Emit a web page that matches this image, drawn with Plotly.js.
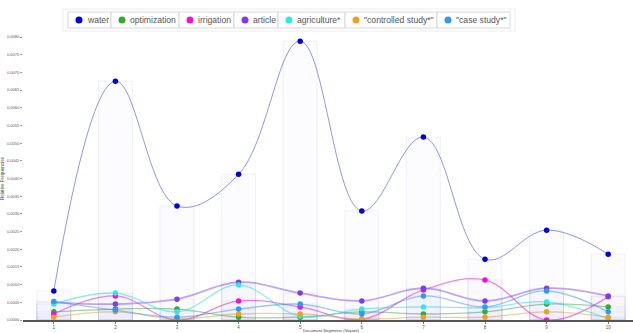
<!DOCTYPE html>
<html><head><meta charset="utf-8">
<script src="https://cdn.plot.ly/plotly-3.0.1.min.js"></script>
<style>html,body{margin:0;padding:0;background:#fff;overflow:hidden}#chart{width:640px;height:333px}</style>
</head><body><div id="chart"></div>
<script>
const segments = [1,2,3,4,5,6,7,8,9,10];
const seriesNames = ['water','optimization','irrigation','article','agriculture*','"controlled study*"','"case study*"'];
const water        = [0.00082,0.00675,0.00322,0.00412,0.00788,0.00308,0.00517,0.00172,0.00254,0.00186];
const optimization = [0.00023,0.00031,0.00031,0.00008,0.00008,0.00023,0.00017,0.00023,0.00045,0.00037];
const irrigation   = [0.00017,0.00068,0.00000,0.00054,0.00037,0.00002,0.00085,0.00113,0.00000,0.00066];
const article      = [0.00050,0.00045,0.00059,0.00107,0.00076,0.00054,0.00090,0.00054,0.00090,0.00068];
const agriculture  = [0.00045,0.00076,0.00023,0.00099,0.00011,0.00031,0.00037,0.00035,0.00051,0.00003];
const controlled   = [0.00008,0.00023,0.00003,0.00017,0.00017,0.00003,0.00008,0.00008,0.00023,0.00008];
const caseStudy    = [0.00052,0.00028,0.00008,0.00031,0.00045,0.00017,0.00068,0.00037,0.00082,0.00023];
const tickVals = [0,0.0005,0.001,0.0015,0.002,0.0025,0.003,0.0035,0.004,0.0045,0.005,0.0055,0.006,0.0065,0.007,0.0075,0.008];

const allSeries = [water,optimization,irrigation,article,agriculture,controlled,caseStudy];
const markerColors = ['#0000dd','#33aa33','#ee11dd','#7a3ee6','#33e6e6','#f0a020','#3399ee'];
const lineColors = ['rgba(60,60,230,0.55)','rgba(51,150,51,0.45)','rgba(230,30,220,0.55)','rgba(130,80,235,0.5)','rgba(40,220,230,0.55)','rgba(220,150,40,0.45)','rgba(50,150,230,0.5)'];

// geometry (pixels)
const W = 640, H = 333, L = 23, R = 1, T = 37, B = 13;
const PW = W - L - R, PH = H - T - B;
const px = v => (v - L) / PW;
const py = v => (H - B - v) / PH;

const traces = [];
allSeries.forEach((vals,i)=>{
  traces.push({type:'bar', x:segments, y:vals, width:0.55, showlegend:false, hoverinfo:'skip',
    marker:{color:'rgba(220,220,250,0.09)', line:{color:'rgba(190,190,225,0.22)', width:1}}});
});
allSeries.forEach((vals,i)=>{
  traces.push({type:'scatter', mode:'lines+markers', x:segments, y:vals, name:seriesNames[i], showlegend:false,
    line:{shape:'spline', smoothing:1.1, color:lineColors[i], width:i===0?1:(i===3?1.8:1.3)},
    marker:{color:markerColors[i], size:5.5}});
});

// custom legend (boxed items like the reference)
const boxes = [[68,111],[111,179],[179,234],[234,278],[278,345],[345,437],[437,510]];
const shapes = [{type:'rect', xref:'paper', yref:'paper', x0:px(63), x1:px(515), y0:py(9), y1:py(31),
  line:{color:'#eeeeee', width:1}, fillcolor:'rgba(0,0,0,0)'}];
const annotations = [];
seriesNames.forEach((n,i)=>{
  const [a,b] = boxes[i];
  shapes.push({type:'rect', xref:'paper', yref:'paper', x0:px(a), x1:px(b), y0:py(12), y1:py(28),
    line:{color:'#d8d8d8', width:1}, fillcolor:'#ffffff'});
  shapes.push({type:'circle', xref:'paper', yref:'paper', x0:px(a+7.5), x1:px(a+14.5), y0:py(16.5), y1:py(23.5),
    line:{width:0}, fillcolor:markerColors[i]});
  annotations.push({xref:'paper', yref:'paper', x:px(a+16.5), y:py(20), xanchor:'left', yanchor:'middle',
    text:n, showarrow:false, font:{size:8.6, color:'#555', family:'Liberation Sans, Arial, sans-serif'}});
});

const layout = {
  width:W, height:H,
  margin:{l:L, r:R, t:T, b:B},
  paper_bgcolor:'#fff', plot_bgcolor:'#fff',
  barmode:'overlay',
  font:{family:'Liberation Sans, Arial, sans-serif', color:'#444'},
  showlegend:false,
  shapes:shapes, annotations:annotations,
  xaxis:{range:[0.5,10.5], tickvals:segments, ticks:'outside', ticklen:2, tickcolor:'#777',
    showgrid:false, zeroline:false, showline:true, linecolor:'#555', linewidth:1.5,
    tickfont:{size:4.5, color:'#555'},
    title:{text:'Document Segments (Voyant)', font:{size:4.2, color:'#444'}, standoff:1}},
  yaxis:{range:[0,0.008], tickvals:tickVals, tickformat:'.4f', ticks:'outside', ticklen:2, tickcolor:'#999',
    showgrid:false, zeroline:false, showline:false,
    tickfont:{size:4, color:'#555'},
    title:{text:'Relative Frequencies', font:{size:4.6, color:'#444'}, standoff:3}}
};
Plotly.newPlot('chart', traces, layout, {displayModeBar:false, staticPlot:true});
</script></body></html>
